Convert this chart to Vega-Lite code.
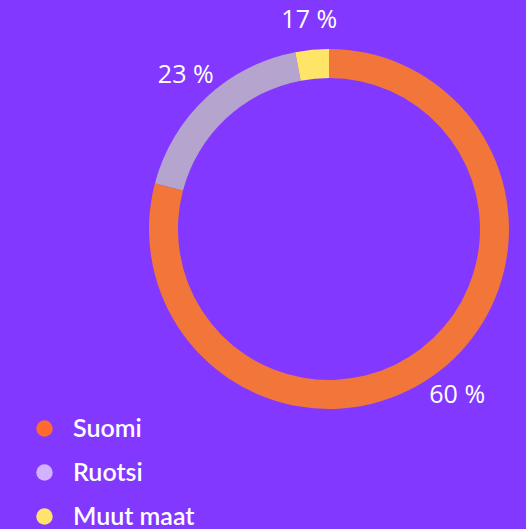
{
  "$schema": "https://vega.github.io/schema/vega-lite/v6.json",
  "autosize": {"type": "none"},
  "width": 394,
  "height": 458,
  "padding": {"left": 132, "top": 0, "right": 0, "bottom": 71},
  "background": "#8338FF",
  "config": {"view": {"stroke": null}, "font": "Lato"},
  "data": {
    "values": [
      {"maa": "Suomi", "osuus": 79.1, "label": "60 %"},
      {"maa": "Ruotsi", "osuus": 17.9, "label": "23 %"},
      {"maa": "Muut maat", "osuus": 3.0, "label": "17 %"}
    ]
  },
  "encoding": {
    "theta": {"field": "osuus", "type": "quantitative", "stack": true},
    "order": {"field": "order_idx", "type": "quantitative"}
  },
  "transform": [
    {"window": [{"op": "row_number", "as": "order_idx"}]}
  ],
  "layer": [
    {
      "mark": {"type": "arc", "outerRadius": 180, "innerRadius": 151},
      "encoding": {
        "fill": {
          "field": "maa",
          "type": "nominal",
          "sort": ["Suomi", "Ruotsi", "Muut maat"],
          "scale": {"domain": ["Suomi", "Ruotsi", "Muut maat"], "range": ["#F2753A", "#B5A4CE", "#FFE567"]},
          "legend": null
        }
      }
    },
    {
      "mark": {"type": "arc", "outerRadius": 180, "innerRadius": 151, "opacity": 0},
      "encoding": {
        "color": {
          "field": "maa",
          "type": "nominal",
          "sort": ["Suomi", "Ruotsi", "Muut maat"],
          "scale": {"domain": ["Suomi", "Ruotsi", "Muut maat"], "range": ["#FF6B2C", "#D3B2FF", "#FFE36B"]},
          "legend": {
            "title": null,
            "orient": "none",
            "legendX": -100,
            "legendY": 416,
            "symbolType": "circle",
            "symbolSize": 270,
            "symbolOpacity": 1,
            "symbolStrokeWidth": 0,
            "labelColor": "white",
            "labelFontSize": 25,
            "labelFontWeight": 600,
            "labelFont": "Lato",
            "labelOffset": 16,
            "rowPadding": 18,
            "padding": 0
          }
        }
      }
    },
    {
      "mark": {"type": "text", "radius": 210, "fontSize": 25, "color": "white", "font": "Open Sans", "fontWeight": 400},
      "encoding": {"text": {"field": "label", "type": "nominal"}}
    }
  ],
  "resolve": {"scale": {"color": "independent", "fill": "independent"}}
}
